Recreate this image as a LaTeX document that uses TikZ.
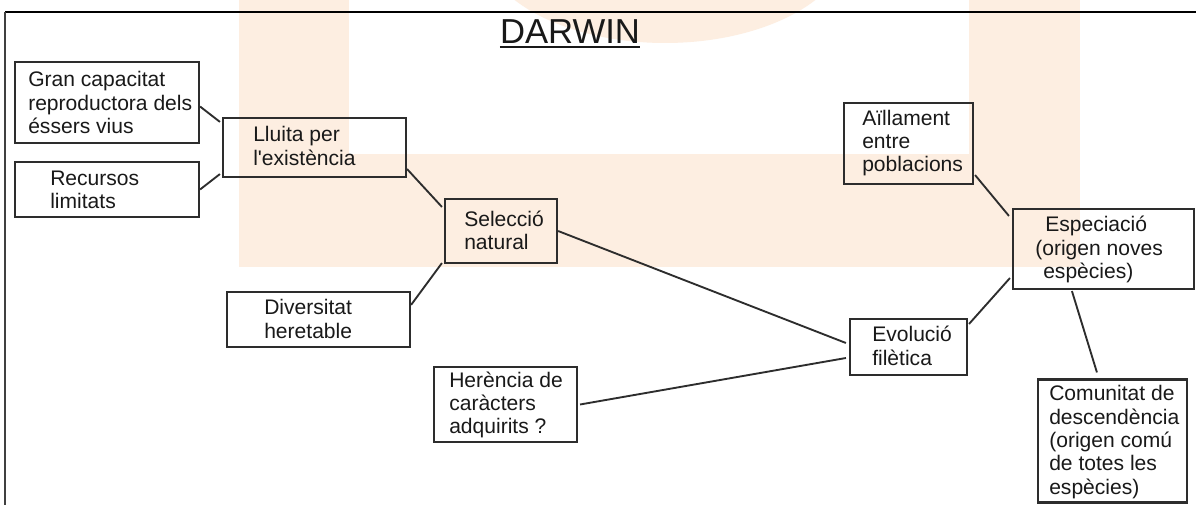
\documentclass[tikz,border=0pt]{standalone}
\usepackage{fontspec}
\setmainfont{Liberation Sans}
\newfontfamily\plainarial{Liberation Sans}
\usetikzlibrary{calc}
\definecolor{wm}{RGB}{253,238,225}
\definecolor{ink}{RGB}{25,25,25}
\definecolor{edge}{RGB}{45,45,45}
\begin{document}
\begin{tikzpicture}[x=0.75pt,y=-0.75pt,
  box/.style={draw=edge, line width=1.6pt, rectangle, inner sep=0pt},
  txt/.style={anchor=west, align=left, inner sep=0pt, text=ink, font=\plainarial\fontsize{15.8}{17.5}\selectfont},
  conn/.style={draw=edge, line width=1.4pt}]
\useasboundingbox (0,0) rectangle (1196,505);
\fill[white] (0,0) rectangle (1196,505);
% watermark
\fill[wm] (239,0) rectangle (349,267);
\fill[wm] (239,154) rectangle (1080,267);
\fill[wm] (969,0) rectangle (1080,267);
\begin{scope}
\clip (0,0) rectangle (1196,505);
\fill[wm] (665,-60) ellipse [x radius=185, y radius=103];
\end{scope}
% frame
\draw[line width=1.2pt, black] (5,12) -- (1196,12);
\draw[line width=1.6pt, black!75] (5,12) -- (5,505);
% title
\node[inner sep=0pt, anchor=base, text=ink, font=\fontsize{26}{30}\selectfont] (title) at (570,44) {DARWIN};
\draw[line width=1.5pt, ink] ($(title.base west)+(0,3)$) -- ($(title.base east)+(0,3)$);
% boxes
\node[box, minimum width=184*0.75pt, minimum height=81*0.75pt] (gran) at (107,102.5) {};
\node[box, minimum width=184*0.75pt, minimum height=55*0.75pt] (recursos) at (107,189.5) {};
\node[box, minimum width=183*0.75pt, minimum height=59*0.75pt] (lluita) at (314.5,147.5) {};
\node[box, minimum width=112*0.75pt, minimum height=64*0.75pt] (selec) at (501,231) {};
\node[box, minimum width=183*0.75pt, minimum height=55*0.75pt] (div) at (318.5,319.5) {};
\node[box, minimum width=143*0.75pt, minimum height=75*0.75pt] (her) at (505.5,404.5) {};
\node[box, minimum width=117*0.75pt, minimum height=56*0.75pt] (evol) at (908.5,347) {};
\node[box, minimum width=129*0.75pt, minimum height=81*0.75pt] (aill) at (908.5,143.5) {};
\node[box, minimum width=181*0.75pt, minimum height=80*0.75pt] (espec) at (1103.5,249) {};
\node[box, minimum width=149*0.75pt, minimum height=123*0.75pt] (com) at (1112.5,441) {};
% texts
\node[txt] (granT) at (28,102.5) {Gran capacitat\\reproductora dels\\éssers vius};
\node[txt] (recursosT) at (50,190) {Recursos\\limitats};
\node[txt] (lluitaT) at (253,146) {Lluita per\\l'existència};
\node[txt] (selecT) at (464,230.5) {Selecció\\natural};
\node[txt] (divT) at (264,319) {Diversitat\\heretable};
\node[txt] (herT) at (449,405) {Herència de\\caràcters\\adquirits ?};
\node[txt] (evolT) at (872,346) {Evolució\\filètica};
\node[txt] (aillT) at (862,143) {Aïllament\\entre\\poblacions};
\node[txt] (especT) at (1035,249.5) {\hspace*{7.5pt}Especiació\\(origen noves\\\hspace*{6pt}espècies)};
\node[txt] (comT) at (1049,442) {Comunitat de\\descendència\\(origen comú\\de totes les\\espècies)};
% connectors
\draw[conn] ($(gran.east)+(0,4)$) -- ($(lluita.north west)+(-2,5)$);
\draw[conn] (recursos.east) -- ($(lluita.south west)+(-2,-4)$);
\draw[conn] ($(lluita.south east)+(0,-9)$) -- ($(selec.north west)+(-2,9)$);
\draw[conn] ($(div.north east)+(0,14)$) -- ($(selec.south west)+(-2,-1)$);
\draw[conn] (selec.east) -- ($(evol.west)+(-3,-4)$);
\draw[conn] ($(her.east)+(2,0)$) -- ($(evol.west)+(-3,11)$);
\draw[conn] ($(evol.north east)+(1,6)$) -- ($(espec.south west)+(-2,-12)$);
\draw[conn] ($(aill.south east)+(1,-10)$) -- ($(espec.north west)+(-3,8)$);
\draw[conn] ($(espec.south west)+(60,1)$) -- ($(com.north west)+(60,-6)$);
\end{tikzpicture}
\end{document}
